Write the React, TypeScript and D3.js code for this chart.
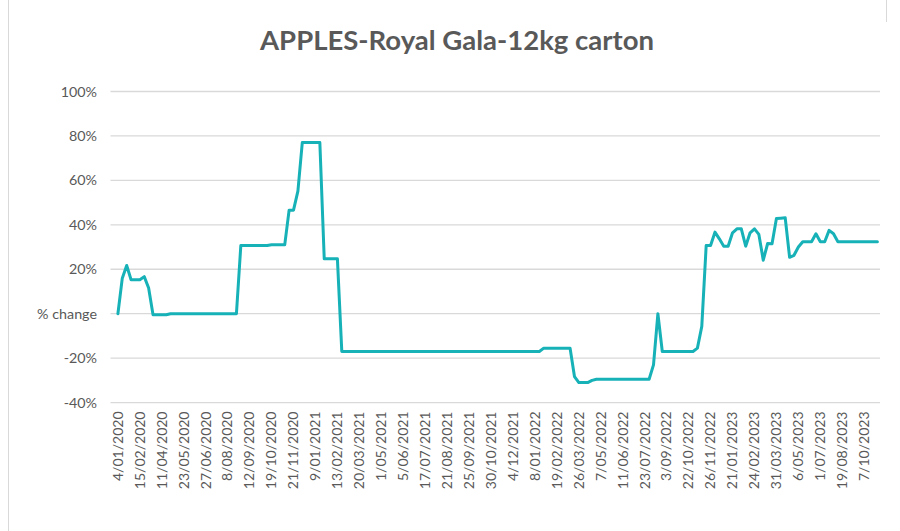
import React from "react";
import * as d3 from "d3";

const title = "APPLES-Royal Gala-12kg carton";

// weekly % change values (category index order)
const pctChange: number[] = [
  0, 16, 21.7, 15.3, 15.3, 15.3, 16.7, 11.6, -0.5, -0.5,
  -0.5, -0.5, 0, 0, 0, 0, 0, 0, 0, 0,
  0, 0, 0, 0, 0, 0, 0, 0, 30.7, 30.7,
  30.7, 30.7, 30.7, 30.7, 30.7, 31, 31, 31, 31, 46.6,
  46.6, 55.2, 77, 77, 77, 77, 77, 24.7, 24.7, 24.7,
  24.7, -17, -17, -17, -17, -17, -17, -17, -17, -17,
  -17, -17, -17, -17, -17, -17, -17, -17, -17, -17,
  -17, -17, -17, -17, -17, -17, -17, -17, -17, -17,
  -17, -17, -17, -17, -17, -17, -17, -17, -17, -17,
  -17, -17, -17, -17, -17, -17, -17, -15.5, -15.5, -15.5,
  -15.5, -15.5, -15.5, -15.5, -28.3, -31, -31, -31, -30, -29.5,
  -29.5, -29.5, -29.5, -29.5, -29.5, -29.5, -29.5, -29.5, -29.5, -29.5,
  -29.5, -29.5, -23, 0, -17, -17, -17, -17, -17, -17,
  -17, -17, -15.5, -5.7, 30.7, 30.7, 36.7, 33.7, 30.4, 30.4,
  36.4, 38.2, 38.2, 30.4, 36.4, 38.2, 35.7, 24.1, 31.6, 31.5,
  42.8, 43, 43.2, 25.4, 26.3, 30, 32.4, 32.4, 32.4, 36,
  32.4, 32.4, 37.5, 36, 32.4, 32.4, 32.4, 32.4, 32.4, 32.4,
  32.4, 32.4, 32.4, 32.4,
];

// category labels shown every 5th category
const tickLabels: string[] = [
  "4/01/2020", "15/02/2020", "11/04/2020", "23/05/2020", "27/06/2020",
  "8/08/2020", "12/09/2020", "19/10/2020", "21/11/2020", "9/01/2021",
  "13/02/2021", "20/03/2021", "1/05/2021", "5/06/2021", "17/07/2021",
  "21/08/2021", "25/09/2021", "30/10/2021", "4/12/2021", "8/01/2022",
  "19/02/2022", "26/03/2022", "7/05/2022", "11/06/2022", "23/07/2022",
  "3/09/2022", "22/10/2022", "26/11/2022", "21/01/2023", "24/02/2023",
  "31/03/2023", "6/05/2023", "1/07/2023", "19/08/2023", "7/10/2023",
];
const labelEvery = 5;

const yTicks: number[] = [-40, -20, 0, 20, 40, 60, 80, 100];

const W = 900;
const H = 531;
const plotLeft = 110.5;
const plotRight = 880;
const FONT = "Lato, 'Open Sans', sans-serif";
const TEXT = "#595959";
const GRID = "#d9d9d9";
const LINE = "#17b1b8";

export default function App() {
  const x = d3.scaleLinear().domain([0, pctChange.length - 1]).range([117.9, 877.4]);
  const y = d3.scaleLinear().domain([-40, 100]).range([402.6, 91.5]);
  const line = d3
    .line<number>()
    .x((_, i) => x(i))
    .y((d) => y(d));

  return (
    <svg
      width={W}
      height={H}
      style={{ position: "absolute", left: 0, top: 0, display: "block", background: "#fff" }}
      fontFamily={FONT}
    >
      <rect x={0} y={0} width={W} height={H} fill="#fff" />
      <line x1={8.5} x2={8.5} y1={0} y2={H} stroke="#d9d9d9" strokeWidth={1} />
      <line x1={886.5} x2={886.5} y1={0} y2={22} stroke="#d9d9d9" strokeWidth={1} />
      <text x={457} y={49.5} textAnchor="middle" fontSize={27.5} fontWeight={700} fill={TEXT}>
        {title}
      </text>
      {yTicks.map((t) => (
        <g key={t}>
          <line x1={plotLeft} x2={plotRight} y1={y(t)} y2={y(t)} stroke={GRID} strokeWidth={1.3} />
          <text x={97} y={y(t)} dy="0.35em" textAnchor="end" fontSize={14.3} fill={TEXT}>
            {t === 0 ? "% change" : `${t}%`}
          </text>
        </g>
      ))}
      <path d={line(pctChange) || ""} fill="none" stroke={LINE} strokeWidth={3} strokeLinejoin="round" strokeLinecap="round" />
      {tickLabels.map((lab, k) => {
        const xi = x(k * labelEvery);
        return (
          <text
            key={lab}
            transform={`translate(${xi + 4.8},411.5) rotate(-90)`}
            textAnchor="end"
            fontSize={14}
            fill={TEXT}
          >
            {lab}
          </text>
        );
      })}
    </svg>
  );
}
